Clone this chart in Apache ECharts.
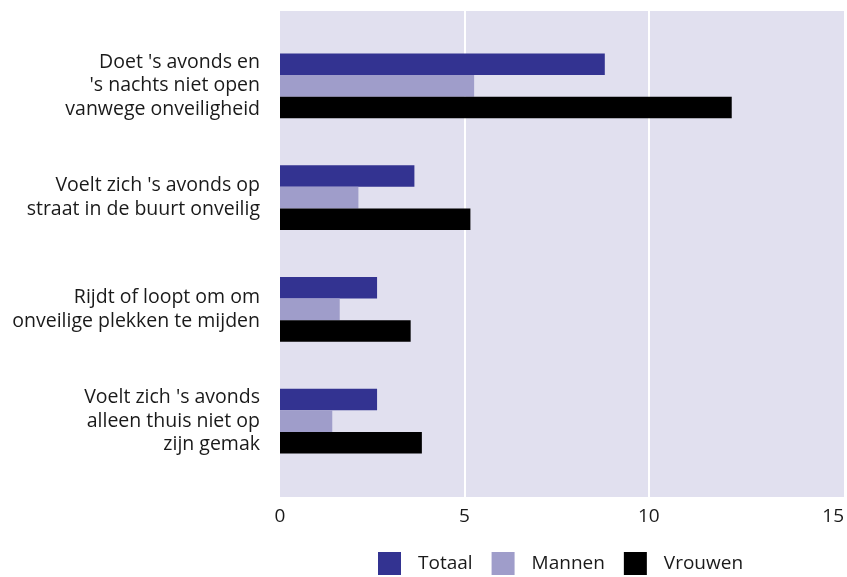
<!DOCTYPE html>
<html><head><meta charset="utf-8">
<script src="https://cdn.jsdelivr.net/npm/echarts@6/dist/echarts.min.js"></script>
<style>html,body{margin:0;padding:0;background:#fff;overflow:hidden}#c{width:847px;height:577px}</style>
</head><body><div id="c"></div>
<script>
const categories = [
  "Doet 's avonds en\n's nachts niet open\nvanwege onveiligheid",
  "Voelt zich 's avonds op\nstraat in de buurt onveilig",
  "Rijdt of loopt om om\nonveilige plekken te mijden",
  "Voelt zich 's avonds\nalleen thuis niet op\nzijn gemak"
];
const totaal = [8.7, 3.6, 2.6, 2.6];
const mannen = [5.2, 2.1, 1.6, 1.4];
const vrouwen = [12.1, 5.1, 3.5, 3.8];
const xTicks = { min: 0, max: 15, interval: 5 };

const font = "Open Sans";
const chart = echarts.init(document.getElementById('c'));
chart.setOption({
  animation: false,
  textStyle: { fontFamily: font },
  grid: [
    { left: 280, right: 7, top: 30, bottom: 100 },
    { left: 280, right: 7, top: 11, bottom: 80 },
    { left: 280, right: 3, top: 11, bottom: 80, show: true, backgroundColor: '#e1e0ef', borderWidth: 0, z: -1 }
  ],
  xAxis: [
    { gridIndex: 0, type: 'value', min: xTicks.min, max: xTicks.max, interval: xTicks.interval, show: false },
    { gridIndex: 1, type: 'value', min: xTicks.min, max: xTicks.max, interval: xTicks.interval,
      axisLine: { show: false }, axisTick: { show: false },
      splitLine: { show: true, showMinLine: false, showMaxLine: false, lineStyle: { color: '#ffffff', width: 2 } },
      axisLabel: { color: '#1a1a1a', fontSize: 19, margin: 10, fontFamily: font } },
    { gridIndex: 2, type: 'value', min: xTicks.min, max: xTicks.max, show: false }
  ],
  yAxis: [
    { gridIndex: 0, type: 'category', data: categories, inverse: true,
      axisLine: { show: false }, axisTick: { show: false },
      axisLabel: { color: '#1a1a1a', fontSize: 19.5, lineHeight: 23.5, align: 'right', margin: 20, fontFamily: font } },
    { gridIndex: 1, type: 'category', data: categories, show: false },
    { gridIndex: 2, type: 'category', data: categories, show: false }
  ],
  legend: {
    data: ['Totaal', 'Mannen', 'Vrouwen'],
    top: 552, left: 378,
    padding: 0,
    itemWidth: 23, itemHeight: 23, itemGap: 19,
    icon: 'rect',
    textStyle: { color: '#1a1a1a', fontSize: 19, fontFamily: font, padding: [9, 0, 0, 12] }
  },
  series: [
    { name: 'Totaal', type: 'bar', xAxisIndex: 0, yAxisIndex: 0, data: totaal, itemStyle: { color: '#333391' }, barGap: '0%', barCategoryGap: '42%' },
    { name: 'Mannen', type: 'bar', xAxisIndex: 0, yAxisIndex: 0, data: mannen, itemStyle: { color: '#9f9dca' }, barGap: '0%', barCategoryGap: '42%' },
    { name: 'Vrouwen', type: 'bar', xAxisIndex: 0, yAxisIndex: 0, data: vrouwen, itemStyle: { color: '#000000' }, barGap: '0%', barCategoryGap: '42%' }
  ]
});
</script></body></html>
